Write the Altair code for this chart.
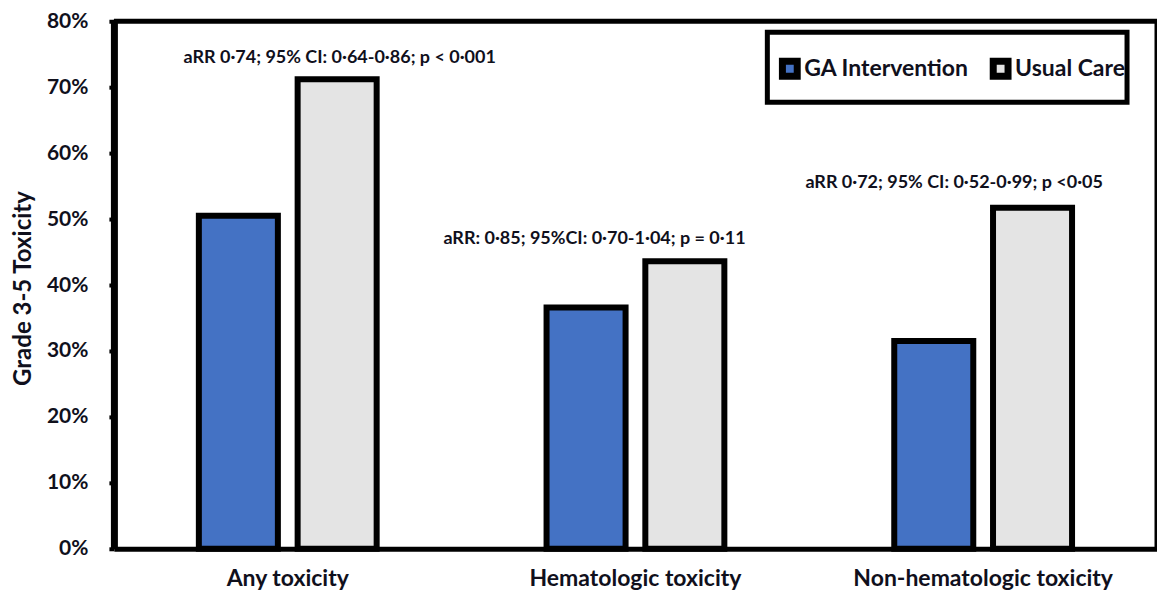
import altair as alt
import pandas as pd

categories = ["Any toxicity", "Hematologic toxicity", "Non-hematologic toxicity"]
groups = ["GA Intervention", "Usual Care"]
ga_values = [0.505, 0.366, 0.315]
uc_values = [0.712, 0.436, 0.517]
annotations = [
    "aRR 0·74; 95% CI: 0·64-0·86; p < 0·001",
    "aRR: 0·85; 95%CI: 0·70-1·04; p = 0·11",
    "aRR 0·72; 95% CI: 0·52-0·99; p <0·05",
]
annotation_levels = [0.744, 0.470, 0.554]

rows = []
for c, g, u in zip(categories, ga_values, uc_values):
    rows.append({"category": c, "group": groups[0], "value": g})
    rows.append({"category": c, "group": groups[1], "value": u})
bars_df = pd.DataFrame(rows)
ann_df = pd.DataFrame({"category": categories, "label": annotations, "level": annotation_levels})

FONT = "Lato"
TXT = "#10101c"
W, H = 1044, 528

x_enc = alt.X("category:N", sort=categories, title=None,
              scale=alt.Scale(paddingInner=0, paddingOuter=0),
              axis=alt.Axis(labelAngle=0, labelFontSize=23, labelFontWeight="bold", labelColor=TXT,
                            labelFont=FONT, ticks=False, domainColor="black", domainWidth=5,
                            labelPadding=19, labelLimit=0))
y_enc = alt.Y("value:Q", title="Grade 3-5 Toxicity",
              scale=alt.Scale(domain=[0, 0.8], nice=False),
              axis=alt.Axis(format=".0%", values=[0, 0.1, 0.2, 0.3, 0.4, 0.5, 0.6, 0.7, 0.8],
                            labelFontSize=21, labelFontWeight="bold", labelColor=TXT, labelFont=FONT,
                            tickSize=5, tickWidth=4, tickColor="black", domainColor="black",
                            domainWidth=7, grid=False, labelPadding=21,
                            titleFontSize=24, titleFontWeight="bold", titleColor=TXT, titleFont=FONT,
                            titleX=-90, titleY=267, titleAngle=270, titleAlign="center",
                            titleBaseline="middle"))

one = pd.DataFrame({"k": [0]})
frame_top = alt.Chart(one).mark_rule(color="black", strokeWidth=5).encode(
    x=alt.value(0), x2=alt.value(W), y=alt.value(0))
frame_right = alt.Chart(one).mark_rule(color="black", strokeWidth=5).encode(
    x=alt.value(W), y=alt.value(0), y2=alt.value(H))

legend_box = alt.Chart(one).mark_rect(
    fill="white", stroke="black", strokeWidth=5
).encode(x=alt.value(654), x2=alt.value(1014), y=alt.value(11), y2=alt.value(81))

bars = alt.Chart(bars_df).mark_bar(stroke="black", strokeWidth=6).encode(
    x=x_enc,
    y=y_enc,
    xOffset=alt.XOffset("group:N", sort=groups,
                        scale=alt.Scale(paddingInner=0.2, paddingOuter=0.86)),
    fill=alt.Fill("group:N", sort=groups,
                  scale=alt.Scale(domain=groups, range=["#4472C4", "#E4E4E4"]),
                  legend=alt.Legend(title=None, orient="none", legendX=665, legendY=36,
                                    direction="horizontal", symbolType="square", symbolSize=220,
                                    symbolStrokeColor="black", symbolStrokeWidth=7,
                                    labelFontSize=23, labelFont=FONT, labelFontWeight="bold",
                                    labelColor=TXT, labelOffset=3, columnPadding=10,
                                    labelLimit=0, padding=0)),
)

dxs = [52, -41, -29]
texts = []
for i, dx in enumerate(dxs):
    texts.append(
        alt.Chart(ann_df.iloc[[i]]).mark_text(fontSize=18, fontWeight="bold", font=FONT, color=TXT,
                                               dx=dx, baseline="middle", align="center").encode(
            x=alt.X("category:N", sort=categories),
            y=alt.Y("level:Q"),
            text="label:N",
        )
    )

chart = alt.layer(frame_top, frame_right, legend_box, bars, *texts).properties(
    width=W, height=H,
    autosize=alt.AutoSizeParams(type="none"),
    padding={"left": 106, "top": 13, "right": 0, "bottom": 45},
).configure_view(stroke="black", strokeWidth=5).configure(background="white")

chart.save("out.html", embed_options={"renderer": "svg", "actions": False})
